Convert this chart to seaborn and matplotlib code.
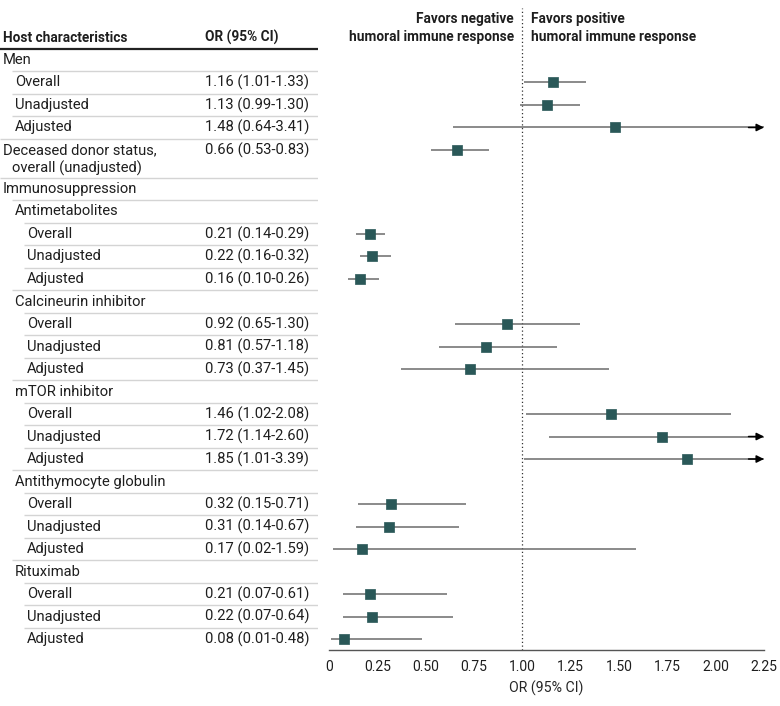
import numpy as np
import pandas as pd
import matplotlib.pyplot as plt
import seaborn as sns

# rows of the forest plot (None = header row without estimate)
labels = ["Men", "Overall", "Unadjusted", "Adjusted",
          "Deceased donor status,\noverall (unadjusted)",
          "Immunosuppression",
          "Antimetabolites", "Overall", "Unadjusted", "Adjusted",
          "Calcineurin inhibitor", "Overall", "Unadjusted", "Adjusted",
          "mTOR inhibitor", "Overall", "Unadjusted", "Adjusted",
          "Antithymocyte globulin", "Overall", "Unadjusted", "Adjusted",
          "Rituximab", "Overall", "Unadjusted", "Adjusted"]
levels = [0, 1, 1, 1, 0, 0, 1, 2, 2, 2, 1, 2, 2, 2, 1, 2, 2, 2, 1, 2, 2, 2, 1, 2, 2, 2]
odds = [None, 1.16, 1.13, 1.48, 0.66, None,
        None, 0.21, 0.22, 0.16, None, 0.92, 0.81, 0.73,
        None, 1.46, 1.72, 1.85, None, 0.32, 0.31, 0.17,
        None, 0.21, 0.22, 0.08]
ci_low = [None, 1.01, 0.99, 0.64, 0.53, None,
          None, 0.14, 0.16, 0.10, None, 0.65, 0.57, 0.37,
          None, 1.02, 1.14, 1.01, None, 0.15, 0.14, 0.02,
          None, 0.07, 0.07, 0.01]
ci_high = [None, 1.33, 1.30, 3.41, 0.83, None,
           None, 0.29, 0.32, 0.26, None, 1.30, 1.18, 1.45,
           None, 2.08, 2.60, 3.39, None, 0.71, 0.67, 1.59,
           None, 0.61, 0.64, 0.48]
x_ticks = [0, 0.25, 0.50, 0.75, 1.00, 1.25, 1.50, 1.75, 2.00, 2.25]
x_tick_labels = ["0", "0.25", "0.50", "0.75", "1.00", "1.25", "1.50", "1.75", "2.00", "2.25"]

sns.set_theme(style="white")
plt.rcParams["font.family"] = ["Roboto", "DejaVu Sans"]
plt.rcParams["text.color"] = "#1e1e1e"

# y position of each row (two-line rows take extra room)
extra = 0.733
ypos = []
shift = 0.0
for lab in labels:
    ypos.append(len(ypos) + shift)
    if "\n" in lab:
        shift += extra

df = pd.DataFrame({"label": labels, "level": levels, "odds": odds,
                   "lo": ci_low, "hi": ci_high, "y": ypos})
pts = df.dropna(subset=["odds"])

W, H = 780, 706
XMAX = 2.25
fig = plt.figure(figsize=(W / 100, H / 100), dpi=100)
bottom = 1 - 650 / H
height = (650 - 8) / H
ylim = (26.22, -2.31)
ax = fig.add_axes([329 / W, bottom, 435 / W, height])
tab = fig.add_axes([0, bottom, 318 / W, height])

marker_col = "#2a5858"
line_col = "#6b6b6b"
fs = 10.6
fs_bold = 9.8

# CI lines
for _, r in pts.iterrows():
    right = min(r["hi"], XMAX)
    ax.hlines(r["y"], r["lo"], right, color=line_col, lw=1.1, zorder=2)
    if r["hi"] > XMAX:
        ax.annotate("", xy=(XMAX, r["y"]), xytext=(XMAX - 0.08, r["y"]),
                    arrowprops=dict(arrowstyle="-|>", color="black", lw=1.1,
                                    mutation_scale=11, shrinkA=0, shrinkB=0),
                    annotation_clip=False, zorder=3)

sns.scatterplot(data=pts, x="odds", y="y", marker="s", s=60, color=marker_col,
                edgecolor=marker_col, linewidth=0.5, ax=ax, zorder=4, legend=False)

ax.axvline(1.0, color="#333333", lw=0.9, ls=(0, (1, 2)), zorder=1)
ax.set_xlim(0, XMAX)
ax.set_ylim(*ylim)
ax.set_xticks(x_ticks)
ax.set_xticklabels(x_tick_labels, fontsize=10)
ax.set_yticks([])
ax.set_xlabel("OR (95% CI)", fontsize=10.2, labelpad=5)
ax.set_ylabel("")
for s in ["top", "right", "left"]:
    ax.spines[s].set_visible(False)
ax.spines["bottom"].set_color("#555555")
ax.spines["bottom"].set_linewidth(1)
ax.tick_params(axis="x", direction="out", length=4, width=1, color="#555555", pad=3,
               labelcolor="#1e1e1e")
ax.patch.set_alpha(0)

ax.text(0.955, -1.44, "Favors negative\nhumoral immune response", ha="right", va="center",
        fontsize=fs_bold, fontweight="bold", linespacing=1.35)
ax.text(1.045, -1.44, "Favors positive\nhumoral immune response", ha="left", va="center",
        fontsize=fs_bold, fontweight="bold", linespacing=1.35)

# table on the left
tab.set_xlim(0, 318)
tab.set_ylim(*ylim)
tab.axis("off")
indent = [3, 15, 27]
tab.text(3, -0.98, "Host characteristics", fontsize=fs_bold, fontweight="bold", va="center")
tab.text(205, -0.98, "OR (95% CI)", fontsize=fs_bold, fontweight="bold", va="center")
tab.hlines(ypos[0] - 0.5, 0, 318, color="#222222", lw=1.6)
for i, r in df.iterrows():
    parts = r["label"].split("\n")
    tab.text(indent[r["level"]], r["y"], parts[0], fontsize=fs, va="center")
    if len(parts) > 1:
        tab.text(indent[r["level"]] + 9, r["y"] + 0.8, parts[1], fontsize=fs, va="center")
    if pd.notna(r["odds"]):
        tab.text(205, r["y"], f"{r['odds']:.2f} ({r['lo']:.2f}-{r['hi']:.2f})",
                 fontsize=fs, va="center")
    if i + 1 < len(df):
        nxt = df.iloc[i + 1]
        tab.hlines(nxt["y"] - 0.5, indent[nxt["level"]] - 3, 318, color="#d4d4d4", lw=1)

fig.savefig("out.png", dpi=100)
